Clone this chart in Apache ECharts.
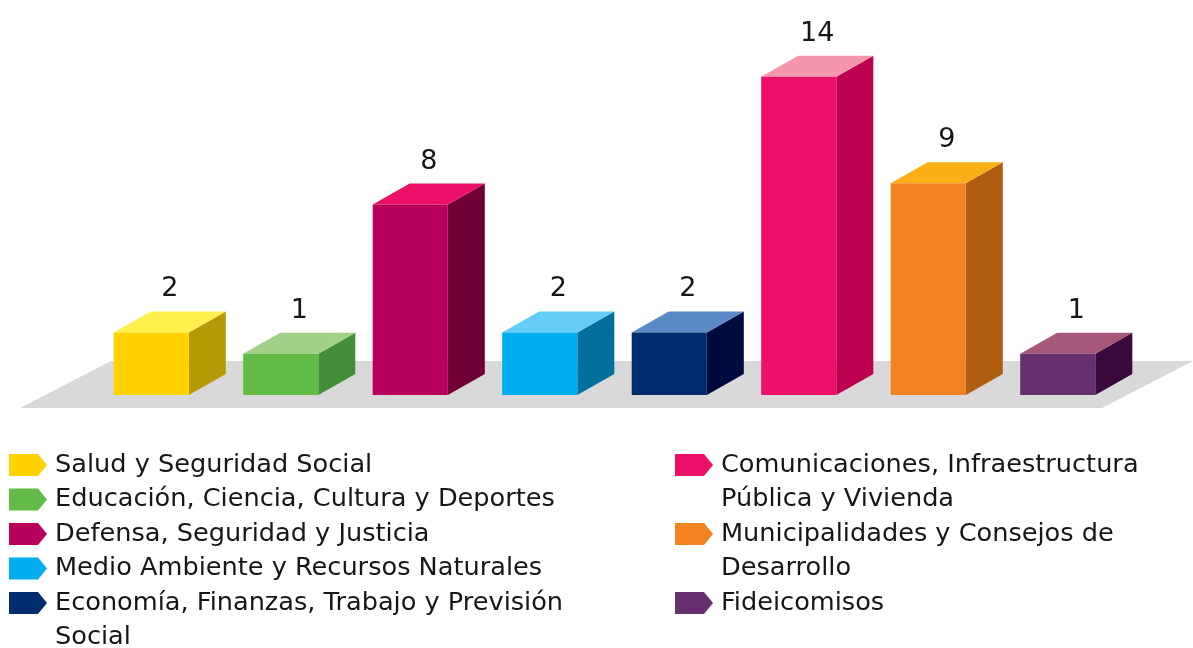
<!DOCTYPE html>
<html>
<head>
<meta charset="utf-8">
<script src="https://cdn.jsdelivr.net/npm/echarts@6/dist/echarts.min.js"></script>
<style>html,body{margin:0;padding:0;background:#fff}#chart{width:1193px;height:648px}</style>
</head>
<body>
<div id="chart"></div>
<script>
// ---- data ----
var categories = [
  'Salud y Seguridad Social',
  'Educación, Ciencia, Cultura y Deportes',
  'Defensa, Seguridad y Justicia',
  'Medio Ambiente y Recursos Naturales',
  'Economía, Finanzas, Trabajo y Previsión Social',
  'Comunicaciones, Infraestructura Pública y Vivienda',
  'Municipalidades y Consejos de Desarrollo',
  'Fideicomisos'
];
var values = [2, 1, 8, 2, 2, 14, 9, 1];
var legendLabels = [
  'Salud y Seguridad Social',
  'Educación, Ciencia, Cultura y Deportes',
  'Defensa, Seguridad y Justicia',
  'Medio Ambiente y Recursos Naturales',
  'Economía, Finanzas, Trabajo y Previsión\nSocial',
  'Comunicaciones, Infraestructura\nPública y Vivienda',
  'Municipalidades y Consejos de\nDesarrollo',
  'Fideicomisos'
];
var frontColors = ['#FFD200', '#61BB46', '#B8005A', '#00AEEF', '#002D6E', '#EC106A', '#F48221', '#66306E'];
var sideColors  = ['#B59905', '#428F37', '#6F0033', '#01709C', '#000A3F', '#BD004F', '#B05D12', '#390A3B'];
var topColors   = ['#FFF04D', '#A1D186', '#EC1069', '#63CDF5', '#5A8AC6', '#F596AC', '#FBAF17', '#A5587A'];
var legendColumn = [0, 0, 0, 0, 0, 1, 1, 1];
var legendRow    = [0, 1, 2, 3, 4, 0, 2, 4];

// ---- style constants ----
var Y_MIN = -0.94, Y_MAX = 16;
var DX = 37, DY = 21;
var FONT = '"DejaVu Sans", "Noto Sans", sans-serif';

var chart = echarts.init(document.getElementById('chart'), null, {renderer: 'canvas'});

function makeRender(idx) {
  return function (params, api) {
    var x = api.value(0), v = api.value(1);
    var top = api.coord([x, v]);
    var bot = api.coord([x, Y_MIN]);
    var w = api.size([1, 0])[0] * 0.58;
    var l = top[0] - w / 2, r = top[0] + w / 2;
    var ty = top[1], by = bot[1];
    return {
      type: 'group',
      children: [
        {type: 'polygon', shape: {points: [[r, ty], [r + DX, ty - DY], [r + DX, by - DY], [r, by]]},
         style: {fill: sideColors[idx]}},
        {type: 'polygon', shape: {points: [[l, ty], [l + DX, ty - DY], [r + DX, ty - DY], [r, ty]]},
         style: {fill: topColors[idx]}},
        {type: 'rect', shape: {x: l, y: ty, width: w, height: by - ty},
         style: {fill: frontColors[idx]}},
        {type: 'text', x: top[0] + DX / 2, y: ty - DY - 22,
         style: {text: String(v), fill: '#161616', font: '27px ' + FONT, align: 'center', verticalAlign: 'middle'}}
      ]
    };
  };
}

var series = categories.map(function (name, i) {
  return {
    type: 'custom',
    name: name,
    coordinateSystem: 'cartesian2d',
    renderItem: makeRender(i),
    data: [[i, values[i]]],
    z: 10,
    silent: true
  };
});

// legend built as graphic elements (arrow marker + text)
var graphics = [];
// floor
graphics.push({
  type: 'polygon', silent: true, z: 0,
  shape: {points: [[20, 408], [111, 361], [1193, 361], [1193, 361], [1102, 408]]},
  style: {fill: '#D9D9D9'}
});
var colX = [9, 675];
var rowY0 = 465, rowH = 34.5;
categories.forEach(function (name, i) {
  var x0 = colX[legendColumn[i]];
  var cy = rowY0 + legendRow[i] * rowH;
  graphics.push({
    type: 'polygon', silent: true,
    shape: {points: [[x0, cy - 11], [x0 + 29, cy - 11], [x0 + 38, cy], [x0 + 29, cy + 11], [x0, cy + 11]]},
    style: {fill: frontColors[i]}
  });
  graphics.push({
    type: 'text', silent: true,
    x: x0 + 46, y: cy - rowH / 2,
    style: {text: legendLabels[i], fill: '#161616', font: '25.6px ' + FONT,
            lineHeight: rowH, align: 'left', verticalAlign: 'top'}
  });
});

chart.setOption({
  animation: false,
  grid: {left: 86.5, width: 1036, top: 34.2, bottom: 253},
  xAxis: {type: 'category', data: categories, show: false},
  yAxis: {type: 'value', min: Y_MIN, max: Y_MAX, show: false},
  graphic: graphics,
  series: series
});
</script>
</body>
</html>
